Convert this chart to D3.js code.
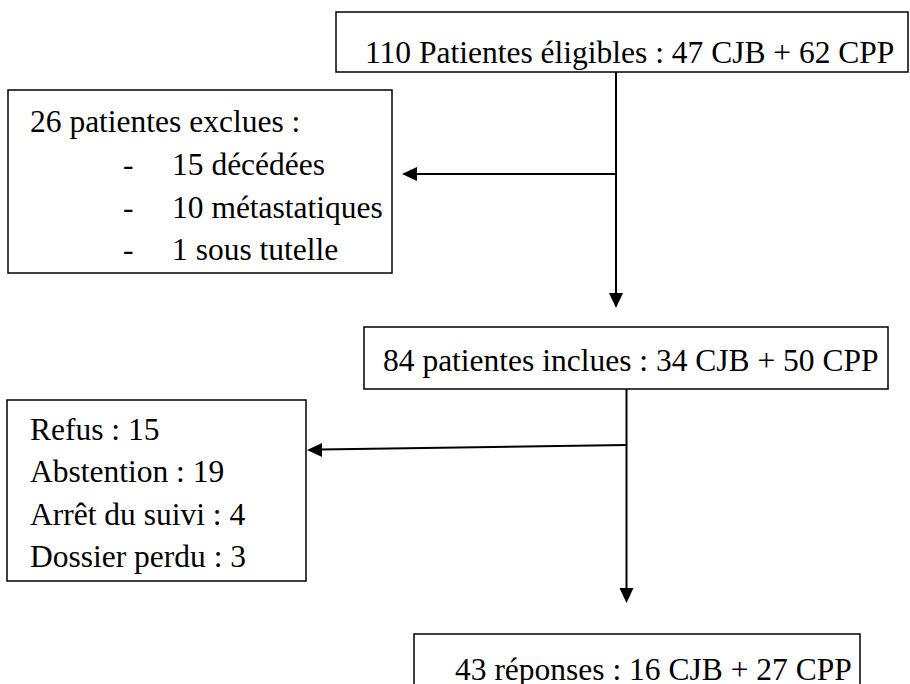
<!DOCTYPE html>
<html>
<head>
<meta charset="utf-8">
<script src="https://cdn.jsdelivr.net/npm/d3@7"></script>
<style>
  body { margin: 0; background: #fff; }
</style>
</head>
<body>
<div id="flow"></div>
<script>
// == DATA == //
let stepLabels = [
    "110 Patientes éligibles : 47 CJB + 62 CPP",
    "84 patientes inclues : 34 CJB + 50 CPP",
    "43 réponses : 16 CJB + 27 CPP"
];
let exclusTitle = "26 patientes exclues :";
let exclusItems = ["15 décédées", "10 métastatiques", "1 sous tutelle"];
let perduesItems = ["Refus : 15", "Abstention : 19", "Arrêt du suivi : 4", "Dossier perdu : 3"];

// == SVG == //
let width = 910, height = 684;
let svg = d3.select("#flow").append("svg")
    .attr("width", width)
    .attr("height", height)
    .attr("font-family", "'Liberation Serif', 'Times New Roman', Times, serif");

let fontSize = 31.5;

// boxes (layout only)
let mainBoxes = [
    {x: 336, y: 12, w: 572, h: 60, tx: 365, ty: 63},
    {x: 364, y: 327, w: 524, h: 62, tx: 383, ty: 371},
    {x: 414, y: 634, w: 446, h: 70, tx: 455, ty: 680}
];

mainBoxes.forEach((b, i) => {
    svg.append("rect")
        .attr("x", b.x).attr("y", b.y)
        .attr("width", b.w).attr("height", b.h)
        .attr("fill", "none")
        .attr("stroke", "#000")
        .attr("stroke-width", 1.5);
    svg.append("text")
        .attr("x", b.tx).attr("y", b.ty)
        .attr("font-size", fontSize)
        .attr("fill", "#000")
        .text(stepLabels[i]);
});

// excluded box
let exBox = svg.append("g").attr("class", "exclues");
exBox.append("rect")
    .attr("x", 8).attr("y", 90).attr("width", 384).attr("height", 183)
    .attr("fill", "none").attr("stroke", "#000").attr("stroke-width", 1.5);
exBox.append("text")
    .attr("x", 30).attr("y", 132)
    .attr("font-size", fontSize)
    .text(exclusTitle);
exBox.selectAll(".dash")
    .data(exclusItems)
    .enter().append("text")
    .attr("class", "dash")
    .attr("x", 123)
    .attr("y", (d, i) => 175 + i * 42.5)
    .attr("font-size", fontSize)
    .text("-");
exBox.selectAll(".item")
    .data(exclusItems)
    .enter().append("text")
    .attr("class", "item")
    .attr("x", 172)
    .attr("y", (d, i) => 175 + i * 42.5)
    .attr("font-size", fontSize)
    .text(d => d);

// lost box
let lostBox = svg.append("g").attr("class", "perdues");
lostBox.append("rect")
    .attr("x", 7).attr("y", 400).attr("width", 299).attr("height", 181)
    .attr("fill", "none").attr("stroke", "#000").attr("stroke-width", 1.5);
lostBox.selectAll("text")
    .data(perduesItems)
    .enter().append("text")
    .attr("x", 30)
    .attr("y", (d, i) => 440 + i * 42.3)
    .attr("font-size", fontSize)
    .text(d => d);

// == CONNECTORS == //
let lines = [
    [[616, 72], [616, 294]],
    [[616, 174], [416, 174]],
    [[626.5, 389], [626.5, 589]],
    [[626.5, 445], [320, 449.5]]
];
let lineGen = d3.line();
svg.selectAll(".link")
    .data(lines)
    .enter().append("path")
    .attr("class", "link")
    .attr("d", lineGen)
    .attr("fill", "none")
    .attr("stroke", "#000")
    .attr("stroke-width", 2);

// arrow heads: tip + direction
let heads = [
    {x: 616, y: 308, dir: "down"},
    {x: 402, y: 174, dir: "left"},
    {x: 626.5, y: 603, dir: "down"},
    {x: 307, y: 450, dir: "left"}
];
svg.selectAll(".head")
    .data(heads)
    .enter().append("path")
    .attr("class", "head")
    .attr("d", d => d.dir === "down"
        ? `M${d.x},${d.y} L${d.x - 7},${d.y - 15} L${d.x + 7},${d.y - 15} Z`
        : `M${d.x},${d.y} L${d.x + 15},${d.y - 7} L${d.x + 15},${d.y + 7} Z`)
    .attr("fill", "#000");
</script>
</body>
</html>
